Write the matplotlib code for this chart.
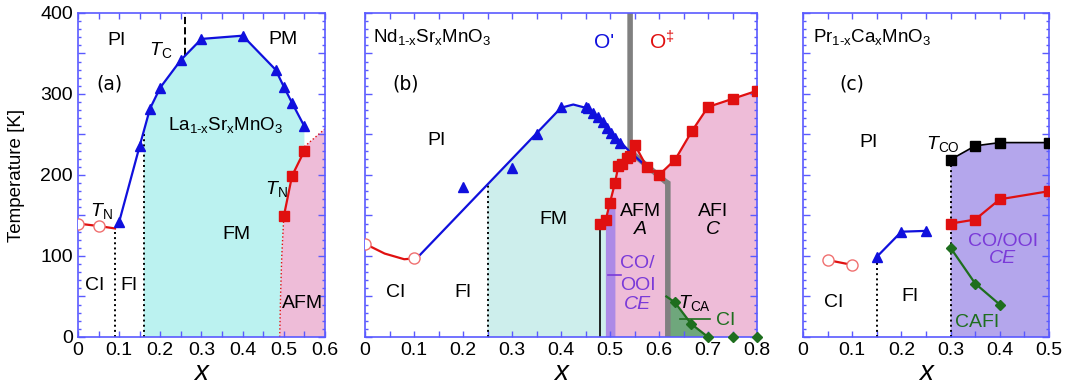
import numpy as np
import matplotlib
matplotlib.use('Agg')
import matplotlib.pyplot as plt
from matplotlib.ticker import MultipleLocator, FuncFormatter

plt.rcParams['font.family'] = ['Liberation Sans', 'DejaVu Sans']
plt.rcParams['mathtext.fontset'] = 'custom'
plt.rcParams['mathtext.rm'] = 'Liberation Sans'
plt.rcParams['mathtext.it'] = 'Liberation Sans:italic'

FRAME = '#5a5aff'
BLUE = '#1010dd'
RED = '#e01010'
GREEN = '#1e6e1e'
CYAN_A = '#bbf2f0'
CYAN_B = '#cdeeec'
PINK = '#eebcd8'
PURPLE = '#b4a6ec'
PURPLE_STRIP = '#ac8ae6'
TXT_PURPLE = '#7a3ad8'
FS = 14

# ---- panel (a): La1-xSrxMnO3 ----
a_circ_x = [0.0, 0.05]
a_circ_T = [140, 137]
a_tnline_x = [0.0, 0.05, 0.09]
a_tnline_T = [140, 137, 134]
a_tc_x = [0.1, 0.15, 0.175, 0.2, 0.25, 0.3, 0.4, 0.48, 0.5, 0.52, 0.55]
a_tc_T = [142, 236, 282, 308, 342, 368, 372, 330, 309, 289, 260]
a_tn_x = [0.5, 0.52, 0.55]
a_tn_T = [149, 199, 230]
a_afm_low_x = [0.49, 0.492, 0.495, 0.5]
a_afm_low_T = [0, 50, 100, 149]
a_afm_top_x = [0.55, 0.6]
a_afm_top_T = [235, 257]

# ---- panel (b): Nd1-xSrxMnO3 ----
b_circ_x = [0.0, 0.1]
b_circ_T = [115, 97]
b_tnline_x = [0.0, 0.04, 0.08, 0.1]
b_tnline_T = [115, 103, 96, 97]
b_tc_x = [0.2, 0.3, 0.35, 0.4, 0.45, 0.456, 0.466, 0.476, 0.486, 0.493, 0.503, 0.51, 0.52]
b_tc_T = [185, 209, 250, 284, 284, 283, 277, 271, 265, 258, 252, 246, 240]
b_tcline_x = [0.11, 0.40, 0.425, 0.45, 0.47, 0.50, 0.54, 0.575]
b_tcline_T = [100, 283, 287, 283, 274, 254, 229, 210]
b_tn_x = [0.48, 0.491, 0.5, 0.51, 0.517, 0.525, 0.534, 0.541, 0.551,
          0.575, 0.6, 0.633, 0.667, 0.7, 0.75, 0.8]
b_tn_T = [140, 144, 166, 190, 211, 214, 221, 223, 237,
          210, 200, 219, 254, 284, 294, 304]
b_tca_x = [0.632, 0.666, 0.7, 0.75, 0.8]
b_tca_T = [43, 16, 0, 0, 0]
b_tcaline_x = [0.615, 0.632, 0.666, 0.7]
b_tcaline_T = [50, 43, 16, 0]
b_gray_x = [0.541, 0.541, 0.613, 0.618, 0.618]
b_gray_T = [400, 229, 192, 190, 0]

# ---- panel (c): Pr1-xCaxMnO3 ----
c_circ_x = [0.05, 0.1]
c_circ_T = [95, 89]
c_tc_x = [0.15, 0.2, 0.25]
c_tc_T = [99, 130, 131]
c_tco_x = [0.3, 0.35, 0.4, 0.5]
c_tco_T = [219, 236, 240, 240]
c_tn_x = [0.3, 0.35, 0.4, 0.5]
c_tn_T = [140, 145, 170, 180]
c_tca_x = [0.3, 0.35, 0.4]
c_tca_T = [110, 66, 40]


def style_axes(ax, xmax, ylabels):
    ax.set_xlim(0, xmax)
    ax.set_ylim(0, 400)
    for s in ax.spines.values():
        s.set_color(FRAME)
        s.set_linewidth(1.2)
    ax.xaxis.set_major_locator(MultipleLocator(0.1))
    ax.xaxis.set_minor_locator(MultipleLocator(0.05))
    ax.yaxis.set_major_locator(MultipleLocator(50))
    ax.yaxis.set_minor_locator(MultipleLocator(10))
    ax.tick_params(which='both', direction='in', top=True, right=True,
                   color=FRAME, width=1.0, labelsize=14)
    ax.tick_params(axis='y', which='major', length=5)
    ax.tick_params(axis='y', which='minor', length=2.5)
    ax.tick_params(axis='x', which='both', length=4)
    ax.xaxis.set_major_formatter(FuncFormatter(lambda v, p: '0' if abs(v) < 1e-9 else f'{v:.1f}'))
    if ylabels:
        ax.yaxis.set_major_formatter(FuncFormatter(lambda v, p: f'{int(v)}' if int(v) % 100 == 0 else ''))
    else:
        ax.yaxis.set_major_formatter(FuncFormatter(lambda v, p: ''))
    ax.set_xlabel('x', fontsize=20, style='italic', labelpad=1)


def sub(a, b, c):
    return a + r'$_{\text{' + b + r'}}$' + c


def panel_tag(ax, x, T, s):
    ax.text(x, T, s, fontsize=13.5, ha='center', va='center', family='DejaVu Sans')


def t_label(ax, x, T, s):
    # italic T with upright subscript
    ax.text(x, T, 'T' + r'$_{\mathrm{' + s + '}}$', fontsize=FS, style='italic',
            ha='center', va='center')


fig = plt.figure(figsize=(10.68, 3.89), dpi=100)
ax_a = fig.add_axes([0.0730, 0.1337, 0.2313, 0.8329])
ax_b = fig.add_axes([0.3418, 0.1337, 0.3670, 0.8329])
ax_c = fig.add_axes([0.7519, 0.1337, 0.2303, 0.8329])

# ---------- (a) ----------
ax = ax_a
tc_at_016 = np.interp(0.16, a_tc_x, a_tc_T)
cyan_x = [0.16, 0.16] + [x for x in a_tc_x if x > 0.16] + a_tn_x[::-1] + a_afm_low_x[::-1][1:]
cyan_T = [0, tc_at_016] + [t for x, t in zip(a_tc_x, a_tc_T) if x > 0.16] + a_tn_T[::-1] + a_afm_low_T[::-1][1:]
ax.fill(cyan_x, cyan_T, color=CYAN_A, lw=0, zorder=1)
pink_x = a_afm_low_x + a_tn_x[1:] + a_afm_top_x + [0.6]
pink_T = a_afm_low_T + a_tn_T[1:] + a_afm_top_T + [0]
ax.fill(pink_x, pink_T, color=PINK, lw=0, zorder=1)
ax.plot(a_afm_low_x, a_afm_low_T, ':', color=RED, lw=1.0, zorder=2)
ax.plot(a_afm_top_x, a_afm_top_T, ':', color=RED, lw=1.0, zorder=2)
ax.plot([0.09, 0.09], [0, a_tnline_T[-1]], ':', color='k', lw=1.4, zorder=2)
ax.plot([0.16, 0.16], [0, tc_at_016], ':', color='k', lw=1.4, zorder=2)
ax.plot([0.26, 0.26], [348, 400], '--', color='k', lw=1.4, zorder=2)
ax.plot(a_tnline_x, a_tnline_T, color=RED, lw=1.6, zorder=3)
ax.plot(a_circ_x, a_circ_T, 'o', ms=8, mfc='white', mec='#f07070', mew=1.0, zorder=4)
ax.plot(a_tc_x, a_tc_T, '-^', color=BLUE, lw=1.6, ms=7.5, zorder=4)
ax.plot(a_tn_x, a_tn_T, '-s', color=RED, lw=1.6, ms=7, zorder=4)
ax.text(0.093, 366, 'PI', fontsize=FS, ha='center', va='center')
ax.text(0.497, 367, 'PM', fontsize=FS, ha='center', va='center')
panel_tag(ax, 0.076, 312, '(a)')
t_label(ax, 0.2, 354, 'C')
ax.text(0.358, 262, sub('La', '1-x', '') + sub('Sr', 'x', '') + sub('MnO', '3', ''),
        fontsize=13.5, ha='center', va='center')
t_label(ax, 0.056, 155, 'N')
t_label(ax, 0.481, 183, 'N')
ax.text(0.384, 126, 'FM', fontsize=FS, ha='center', va='center')
ax.text(0.041, 63, 'CI', fontsize=FS, ha='center', va='center')
ax.text(0.123, 63, 'FI', fontsize=FS, ha='center', va='center')
ax.text(0.545, 41, 'AFM', fontsize=FS, ha='center', va='center')
style_axes(ax, 0.6, True)
ax.set_ylabel('Temperature [K]', fontsize=13.5)
ax.yaxis.set_label_coords(-0.215, 0.5)

# ---------- (b) ----------
ax = ax_b
tc_at_025 = np.interp(0.25, b_tcline_x, b_tcline_T)
pink_x = [0.48] + b_tn_x + [0.8]
pink_T = [0] + b_tn_T + [0]
ax.fill(pink_x, pink_T, color=PINK, lw=0, zorder=1)
top_x = [x for x in b_tcline_x if 0.25 < x < 0.54]
top_T = [t for x, t in zip(b_tcline_x, b_tcline_T) if 0.25 < x < 0.54]
left_x = [x for x in b_tn_x if x <= 0.541][::-1]
left_T = [t for x, t in zip(b_tn_x, b_tn_T) if x <= 0.541][::-1]
cyan_x = [0.25, 0.25] + top_x + left_x[:-1] + [0.4916, 0.4916]
cyan_T = [0, tc_at_025] + top_T + left_T[:-1] + [144, 0]
ax.fill(cyan_x, cyan_T, color=CYAN_B, lw=0, zorder=1)
ax.fill([0.48, 0.48, 0.4916, 0.4916], [0, 140, 144, 0], color=CYAN_B, lw=0, zorder=1)
ax.fill([0.4916, 0.4916, 0.5, 0.511, 0.511], [0, 148, 160, 160, 0],
        color=PURPLE_STRIP, lw=0, zorder=1.5)
ax.fill([0.618] + b_tcaline_x[1:] + [0.618], [48] + b_tcaline_T[1:] + [0],
        color='#6fa77c', lw=0, zorder=1.5)
ax.plot(b_gray_x, b_gray_T, color='#808080', lw=4, zorder=2, solid_joinstyle='miter')
ax.plot([0.25, 0.25], [0, tc_at_025], ':', color='k', lw=1.4, zorder=2)
ax.plot([0.48, 0.48], [0, b_tn_T[0]], '-', color='k', lw=1.2, zorder=2)
ax.plot(b_tnline_x, b_tnline_T, color=RED, lw=1.6, zorder=3)
ax.plot(b_circ_x, b_circ_T, 'o', ms=8, mfc='white', mec='#f07070', mew=1.0, zorder=4)
ax.plot(b_tcline_x, b_tcline_T, color=BLUE, lw=1.6, zorder=3)
ax.plot(b_tc_x, b_tc_T, '^', color=BLUE, ms=7.5, zorder=4)
ax.plot(b_tn_x, b_tn_T, '-s', color=RED, lw=1.6, ms=7, zorder=4)
ax.plot(b_tcaline_x, b_tcaline_T, color=GREEN, lw=1.6, zorder=3)
ax.plot(b_tca_x, b_tca_T, 'D', color=GREEN, ms=5.5, zorder=5, clip_on=False)
ax.plot([0.642, 0.705], [22, 22], color=GREEN, lw=1.2, zorder=3)
ax.plot([0.496, 0.523], [77, 77], color=TXT_PURPLE, lw=1.2, zorder=3)
ax.text(0.017, 370, sub('Nd', '1-x', '') + sub('Sr', 'x', '') + sub('MnO', '3', ''),
        fontsize=13.5, ha='left', va='center')
ax.text(0.487, 364, "O'", fontsize=15, ha='center', va='center', color=BLUE)
ax.text(0.606, 364, r'O$^{\ddagger}$', fontsize=15, ha='center', va='center', color=RED)
panel_tag(ax, 0.082, 312, '(b)')
ax.text(0.146, 242, 'PI', fontsize=FS, ha='center', va='center')
ax.text(0.385, 145, 'FM', fontsize=FS, ha='center', va='center')
ax.text(0.562, 155, 'AFM', fontsize=FS, ha='center', va='center')
ax.text(0.562, 133, 'A', fontsize=FS, ha='center', va='center', style='italic')
ax.text(0.711, 155, 'AFI', fontsize=FS, ha='center', va='center')
ax.text(0.711, 133, 'C', fontsize=FS, ha='center', va='center', style='italic')
ax.text(0.556, 91, 'CO/', fontsize=FS, ha='center', va='center', color=TXT_PURPLE)
ax.text(0.556, 64, 'OOI', fontsize=FS, ha='center', va='center', color=TXT_PURPLE)
ax.text(0.556, 40, 'CE', fontsize=FS, ha='center', va='center', color=TXT_PURPLE, style='italic')
t_label(ax, 0.672, 42, 'CA')
ax.text(0.737, 20, 'CI', fontsize=FS, ha='center', va='center', color=GREEN)
ax.text(0.062, 55, 'CI', fontsize=FS, ha='center', va='center')
ax.text(0.2, 55, 'FI', fontsize=FS, ha='center', va='center')
style_axes(ax, 0.8, False)

# ---------- (c) ----------
ax = ax_c
ax.fill([0.3] + c_tco_x + [0.5], [0] + c_tco_T + [0], color=PURPLE, lw=0, zorder=1)
ax.plot([0.15, 0.15], [0, c_tc_T[0]], ':', color='k', lw=1.4, zorder=2)
ax.plot([0.3, 0.3], [0, c_tco_T[0]], ':', color='k', lw=1.4, zorder=2)
ax.plot(c_circ_x, c_circ_T, '-o', color=RED, lw=1.6, ms=8, mfc='white', mec='#f07070', mew=1.0, zorder=4)
ax.plot(c_tc_x, c_tc_T, '-^', color=BLUE, lw=1.6, ms=7.5, zorder=4)
ax.plot(c_tco_x, c_tco_T, '-s', color='k', lw=1.2, ms=7, zorder=4)
ax.plot(c_tn_x, c_tn_T, '-s', color=RED, lw=1.6, ms=7, zorder=4)
ax.plot(c_tca_x, c_tca_T, '-D', color=GREEN, lw=1.6, ms=5.5, zorder=4)
ax.text(0.02, 370, sub('Pr', '1-x', '') + sub('Ca', 'x', '') + sub('MnO', '3', ''),
        fontsize=13.5, ha='left', va='center')
panel_tag(ax, 0.1, 312, '(c)')
ax.text(0.134, 240, 'PI', fontsize=FS, ha='center', va='center')
t_label(ax, 0.285, 238, 'CO')
ax.text(0.406, 118, 'CO/OOI', fontsize=FS, ha='center', va='center', color=TXT_PURPLE)
ax.text(0.406, 97, 'CE', fontsize=FS, ha='center', va='center', color=TXT_PURPLE, style='italic')
ax.text(0.063, 43, 'CI', fontsize=FS, ha='center', va='center')
ax.text(0.218, 50, 'FI', fontsize=FS, ha='center', va='center')
ax.text(0.354, 18, 'CAFI', fontsize=FS, ha='center', va='center', color=GREEN)
style_axes(ax, 0.5, False)

fig.savefig('out.png', dpi=100)
